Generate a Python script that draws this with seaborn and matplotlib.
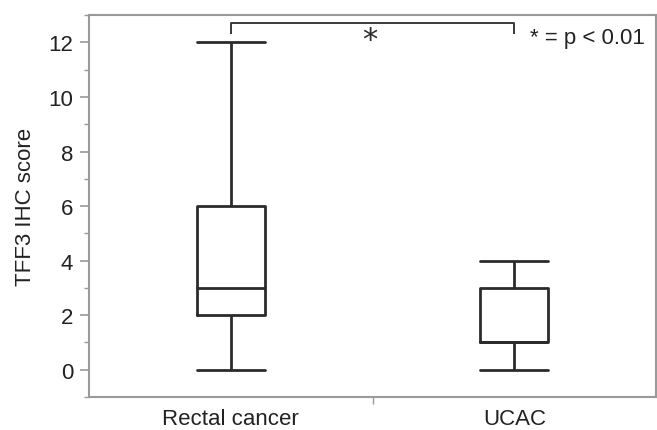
import matplotlib
matplotlib.use("Agg")
import matplotlib.pyplot as plt
import seaborn as sns
import pandas as pd
import numpy as np
from matplotlib.ticker import MultipleLocator, FixedLocator

categories = ["Rectal cancer", "UCAC"]
rectal_values = [0, 2, 3, 6, 12]
ucac_values = [0, 1, 1, 3, 4]
y_ticks = [0, 2, 4, 6, 8, 10, 12]

sns.set_theme(style="white")
plt.rcParams["font.family"] = ["Liberation Sans", "DejaVu Sans"]

df = pd.DataFrame({
    "group": [categories[0]] * len(rectal_values) + [categories[1]] * len(ucac_values),
    "score": rectal_values + ucac_values,
})

fig = plt.figure(figsize=(6.57, 4.31), dpi=100)
ax = fig.add_axes([0.1355, 0.0766, 0.863, 0.886])

line_col = "#2b2b2b"
box_w = 0.24
sns.boxplot(data=df, x="group", y="score", order=categories, ax=ax,
            whis=(0, 100), width=box_w, fill=False, color=line_col,
            linewidth=2.0, showfliers=False)

# make caps span the full box width
for ln in ax.lines:
    xd = np.asarray(ln.get_xdata(), dtype=float)
    yd = np.asarray(ln.get_ydata(), dtype=float)
    if len(xd) == 2 and yd[0] == yd[1] and xd[0] != xd[1]:
        c = xd.mean()
        ln.set_xdata([c - box_w / 2, c + box_w / 2])
    ln.set_color(line_col)
    ln.set_linewidth(2.0)

ax.set_xlim(-0.5, 1.5)
ax.set_ylim(-1, 13)
ax.set_xlabel("")
ax.set_ylabel("TFF3 IHC score", fontsize=16, color="#222222", labelpad=9)

ax.yaxis.set_major_locator(FixedLocator(y_ticks))
ax.yaxis.set_minor_locator(MultipleLocator(1))
ax.tick_params(axis="y", which="major", length=6.5, width=1.2, color="#999999",
               labelsize=16, labelcolor="#222222", left=True, pad=5)
ax.tick_params(axis="y", which="minor", length=3.5, width=1.0, color="#999999", left=True)

ax.set_xticks([0, 1])
ax.set_xticklabels(categories, fontsize=16, color="#222222")
ax.tick_params(axis="x", which="major", length=0, pad=8)
ax.xaxis.set_minor_locator(FixedLocator([0.5]))
ax.tick_params(axis="x", which="minor", length=5, width=1.0, color="#999999", bottom=True)

for s in ax.spines.values():
    s.set_visible(True)
    s.set_color("#9a9a9a")
    s.set_linewidth(1.5)

# significance bracket
ax.plot([0, 0, 1, 1], [12.3, 12.7, 12.7, 12.3], color="#3a3a3a", lw=1.4,
        solid_capstyle="butt", clip_on=False)
ax.text(0.49, 12.22, "*", ha="center", va="center_baseline", fontsize=22,
        color="#2b2b2b", family=["DejaVu Sans"])
ax.text(1.056, 12.18, "* = p < 0.01", ha="left", va="center", fontsize=16, color="#222222")

fig.savefig("out.png", dpi=100)
